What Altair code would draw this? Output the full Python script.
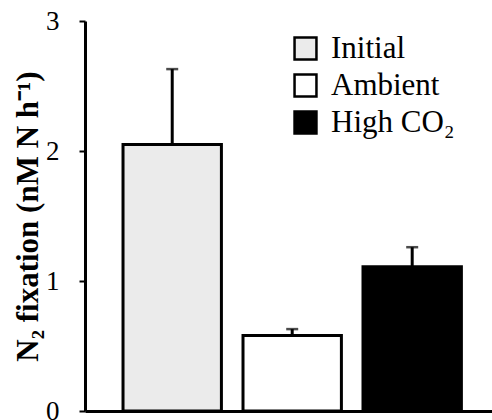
import altair as alt
import pandas as pd

# Treatment groups and measured N2 fixation rates (nM N h^-1)
groups = ["Initial", "Ambient", "High CO₂"]
rates = [2.05, 0.58, 1.11]
errors = [0.58, 0.05, 0.15]
fills = ["#ebebeb", "#ffffff", "#000000"]

df = pd.DataFrame({"group": groups, "rate": rates, "err": errors})
df["upper"] = df["rate"] + df["err"]

FONT = "Liberation Serif"

x_enc = alt.X(
    "group:N",
    sort=groups,
    scale=alt.Scale(paddingInner=0.18, paddingOuter=0.286, align=0.554),
    axis=alt.Axis(
        title=None, labels=False, ticks=False,
        domainColor="black", domainWidth=3,
    ),
)

y_scale = alt.Scale(domain=[0, 3], nice=False, zero=True)

bars = alt.Chart(df).mark_bar(stroke="black", strokeWidth=3).encode(
    x=x_enc,
    y=alt.Y(
        "rate:Q",
        scale=y_scale,
        axis=alt.Axis(
            title="N₂ fixation  (nM N h⁻¹)",
            titleFont=FONT, titleFontSize=31, titleFontWeight="bold",
            titleColor="black", titlePadding=1,
            values=[0, 1, 2, 3], format="d",
            labelFont=FONT, labelFontSize=27, labelColor="black",
            labelPadding=20,
            tickColor="black", tickSize=6, tickWidth=2,
            domainColor="black", domainWidth=3, grid=False,
        ),
    ),
    fill=alt.Fill(
        "group:N",
        sort=groups,
        scale=alt.Scale(domain=groups, range=fills),
        legend=alt.Legend(
            title=None, orient="none", legendX=205, legendY=12,
            symbolType="square", symbolSize=480,
            symbolStrokeColor="black", symbolStrokeWidth=2.5,
            labelFont=FONT, labelFontSize=31, labelColor="black",
            labelOffset=10, rowPadding=4,
        ),
    ),
)

stems = alt.Chart(df).mark_rule(color="black", strokeWidth=3).encode(
    x=x_enc,
    y=alt.Y("rate:Q", scale=y_scale),
    y2="upper:Q",
)

caps = alt.Chart(df).mark_tick(color="black", thickness=2.5, size=12).encode(
    x=x_enc,
    y=alt.Y("upper:Q", scale=y_scale),
)

chart = (
    alt.layer(bars, stems, caps)
    .properties(
        width=407,
        height=390,
        autosize=alt.AutoSizeParams(type="none"),
        padding={"left": 85, "top": 21, "right": 0, "bottom": 9},
        background="white",
    )
    .configure_view(stroke=None)
)

chart.save("out.html", embed_options={"renderer": "svg", "actions": False})
